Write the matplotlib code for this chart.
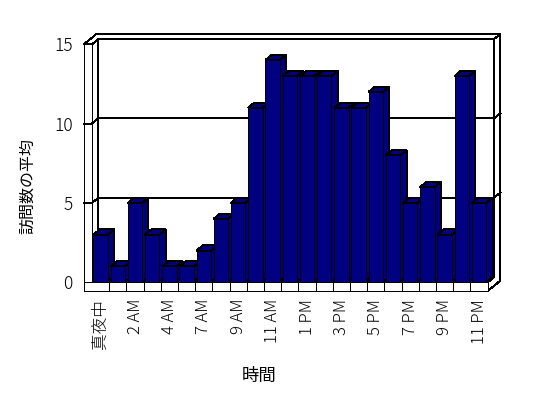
import matplotlib
matplotlib.use("Agg")
import matplotlib.pyplot as plt
from matplotlib.patches import Polygon

plt.rcParams['font.family'] = ['Noto Sans CJK JP', 'DejaVu Sans']
plt.rcParams['font.weight'] = 'light'

# hourly categories (one hour has no data in the source)
hours = ["真夜中", "1 AM", "2 AM", "3 AM", "4 AM", "5 AM", "7 AM", "8 AM", "9 AM",
         "10 AM", "11 AM", "12 PM", "1 PM", "2 PM", "3 PM", "4 PM", "5 PM", "6 PM",
         "7 PM", "8 PM", "9 PM", "10 PM", "11 PM"]
visits = [3, 1, 5, 3, 1, 1, 2, 4, 5, 11, 14, 13, 13, 13, 11, 11, 12, 8, 5, 6, 3, 13, 5]
yticks = [0, 5, 10, 15]

navy = "#000080"
DX, DY = 0.37, 0.33    # one step of depth, in category / value units
WALL = 0.47            # left wall thickness
FLOOR = 0.55           # floor thickness
GAP, BW = 0.076, 0.837 # bar offset and width inside a category
LW = 0.72

fig = plt.figure(figsize=(5.48, 3.98), dpi=100)
ax = fig.add_axes([92 / 548, 115.7 / 398, 395.7 / 548, 238 / 398])
n = len(hours)
x0, x1 = -0.5, n - 0.5
ymax = yticks[-1]
ax.set_xlim(x0, x1)
ax.set_ylim(0, ymax)


def P(x, y, d=0):
    return (x + d * DX, y + d * DY)


def face(pts, fc="white", z=1):
    ax.add_patch(Polygon(pts, closed=True, facecolor=fc, edgecolor="black", lw=LW,
                         zorder=z, clip_on=False, antialiased=False))


def seg(pts, z=2):
    xs, ys = zip(*pts)
    ax.plot(xs, ys, color="black", lw=LW, zorder=z, clip_on=False, antialiased=False)


# walls and floor
face([P(x0, 0, 1), P(x1, 0, 1), P(x1, ymax, 1), P(x0, ymax, 1)])
face([P(x0 - WALL, ymax), P(x0, ymax), P(x0, ymax, 1), P(x1, ymax, 1),
      P(x1, ymax, 2), P(x0 - WALL, ymax, 2)])
face([P(x1, -FLOOR), P(x1, 0), P(x1, 0, 1), P(x1, ymax, 1), P(x1, ymax, 2), P(x1, -FLOOR, 2)])
face([P(x0, 0), P(x0, 0, 1), P(x0, ymax, 1), P(x0, ymax)])
face([P(x0, 0), P(x1, 0), P(x1, 0, 1), P(x0, 0, 1)])
face([P(x0 - WALL, -FLOOR), P(x1, -FLOOR), P(x1, 0), P(x0, 0), P(x0, ymax), P(x0 - WALL, ymax)])

for y in yticks[1:-1]:
    seg([P(x0 - WALL, y), P(x0, y), P(x0, y, 1), P(x1, y, 1), P(x1, y, 2)])
seg([P(x0 - WALL, 0), P(x0, 0)])
for i in range(n - 1):
    seg([(i + 0.5, -FLOOR), (i + 0.5, 0)])

# bars, left to right so each one hides the side of the previous
for i, v in enumerate(visits):
    l = i - 0.5 + GAP
    r = l + BW
    z = 10 + i * 0.01
    face([P(r, 0), P(r, 0, 1), P(r, v, 1), P(r, v)], navy, z)
    face([P(l, v), P(r, v), P(r, v, 1), P(l, v, 1)], navy, z)
    face([P(l, 0), P(r, 0), P(r, v), P(l, v)], navy, z)

for s in ax.spines.values():
    s.set_visible(False)
ax.patch.set_visible(False)

ax.set_yticks(yticks)
ax.tick_params(axis='y', length=0, pad=14, labelsize=12.5)
ax.set_xticks(range(0, n, 2))
ax.set_xticklabels(hours[::2], rotation=90, va='top', ha='center')
ax.tick_params(axis='x', length=0, pad=12, labelsize=12)

ax.set_ylabel("訪問数の平均", fontsize=11.5, va='center')
ax.yaxis.set_label_coords(-0.162, 0.405)
ax.set_xlabel("時間", fontsize=12.5, va='center')
ax.xaxis.set_label_coords(0.422, -0.394)

fig.savefig("out.png", dpi=100)
